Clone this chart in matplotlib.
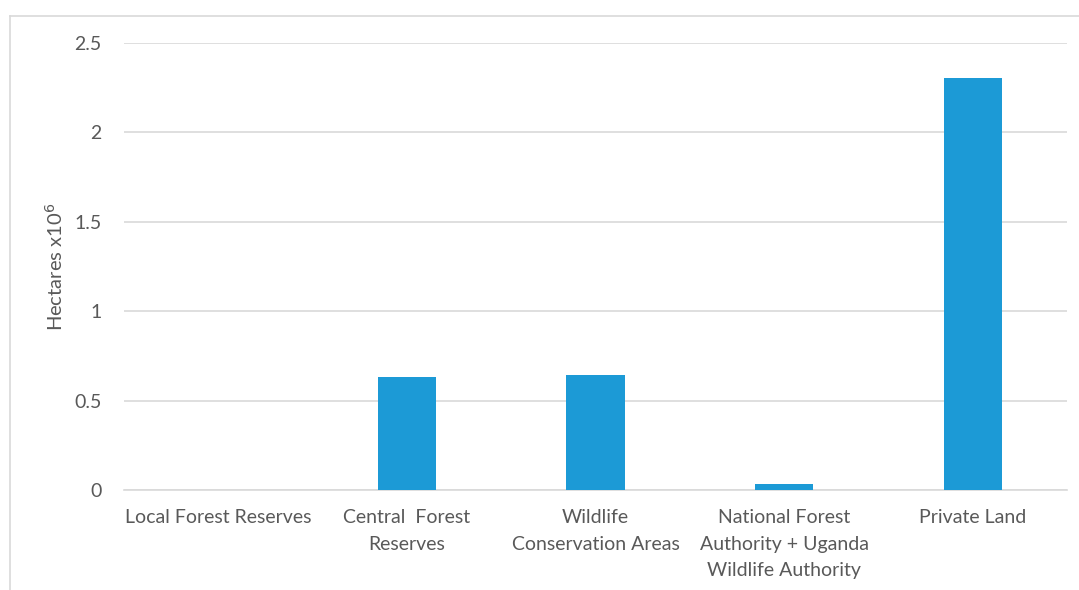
import matplotlib.pyplot as plt
from matplotlib.lines import Line2D

categories = ['Local Forest Reserves', 'Central  Forest\nReserves', 'Wildlife\nConservation Areas',
              'National Forest\nAuthority + Uganda\nWildlife Authority', 'Private Land']
hectares = [0.0, 0.632, 0.643, 0.034, 2.304]
yticks = [0, 0.5, 1, 1.5, 2, 2.5]
ytick_labels = ['0', '0.5', '1', '1.5', '2', '2.5']

plt.rcParams['font.family'] = ['Lato', 'DejaVu Sans']
grey = '#595959'
fs = 14

fig = plt.figure(figsize=(10.79, 5.90), dpi=100)
ax = fig.add_axes([0.115, 0.1695, 0.874, 0.7575])

x = range(len(categories))
ax.bar(x, hectares, width=0.31, color='#1c9ad6', zorder=3)

ax.set_xlim(-0.5, len(categories) - 0.5)
ax.set_ylim(0, 2.5)
ax.set_yticks(yticks)
ax.set_yticklabels(ytick_labels)
ax.set_xticks(list(x))
ax.set_xticklabels(categories, linespacing=1.65)

ax.yaxis.grid(True, color='#d9d9d9', linewidth=1.2, zorder=0)
for s in ['top', 'right', 'left']:
    ax.spines[s].set_visible(False)
ax.spines['bottom'].set_color('#d9d9d9')
ax.spines['bottom'].set_linewidth(1.2)
ax.tick_params(axis='both', length=0, colors=grey, labelsize=fs)
ax.tick_params(axis='y', pad=16)
ax.tick_params(axis='x', pad=14)

ax.set_ylabel('Hectares x10$^6$', color=grey, fontsize=fs + 0.5, labelpad=6)

# outer chart frame (partially cropped in the original)
fig.add_artist(Line2D([10 / 1079, 10 / 1079], [0, 1 - 16 / 590], transform=fig.transFigure,
                      color='#d9d9d9', linewidth=1.2))
fig.add_artist(Line2D([10 / 1079, 1], [1 - 16 / 590, 1 - 16 / 590], transform=fig.transFigure,
                      color='#d9d9d9', linewidth=1.2))

plt.savefig('out.png', dpi=100)
